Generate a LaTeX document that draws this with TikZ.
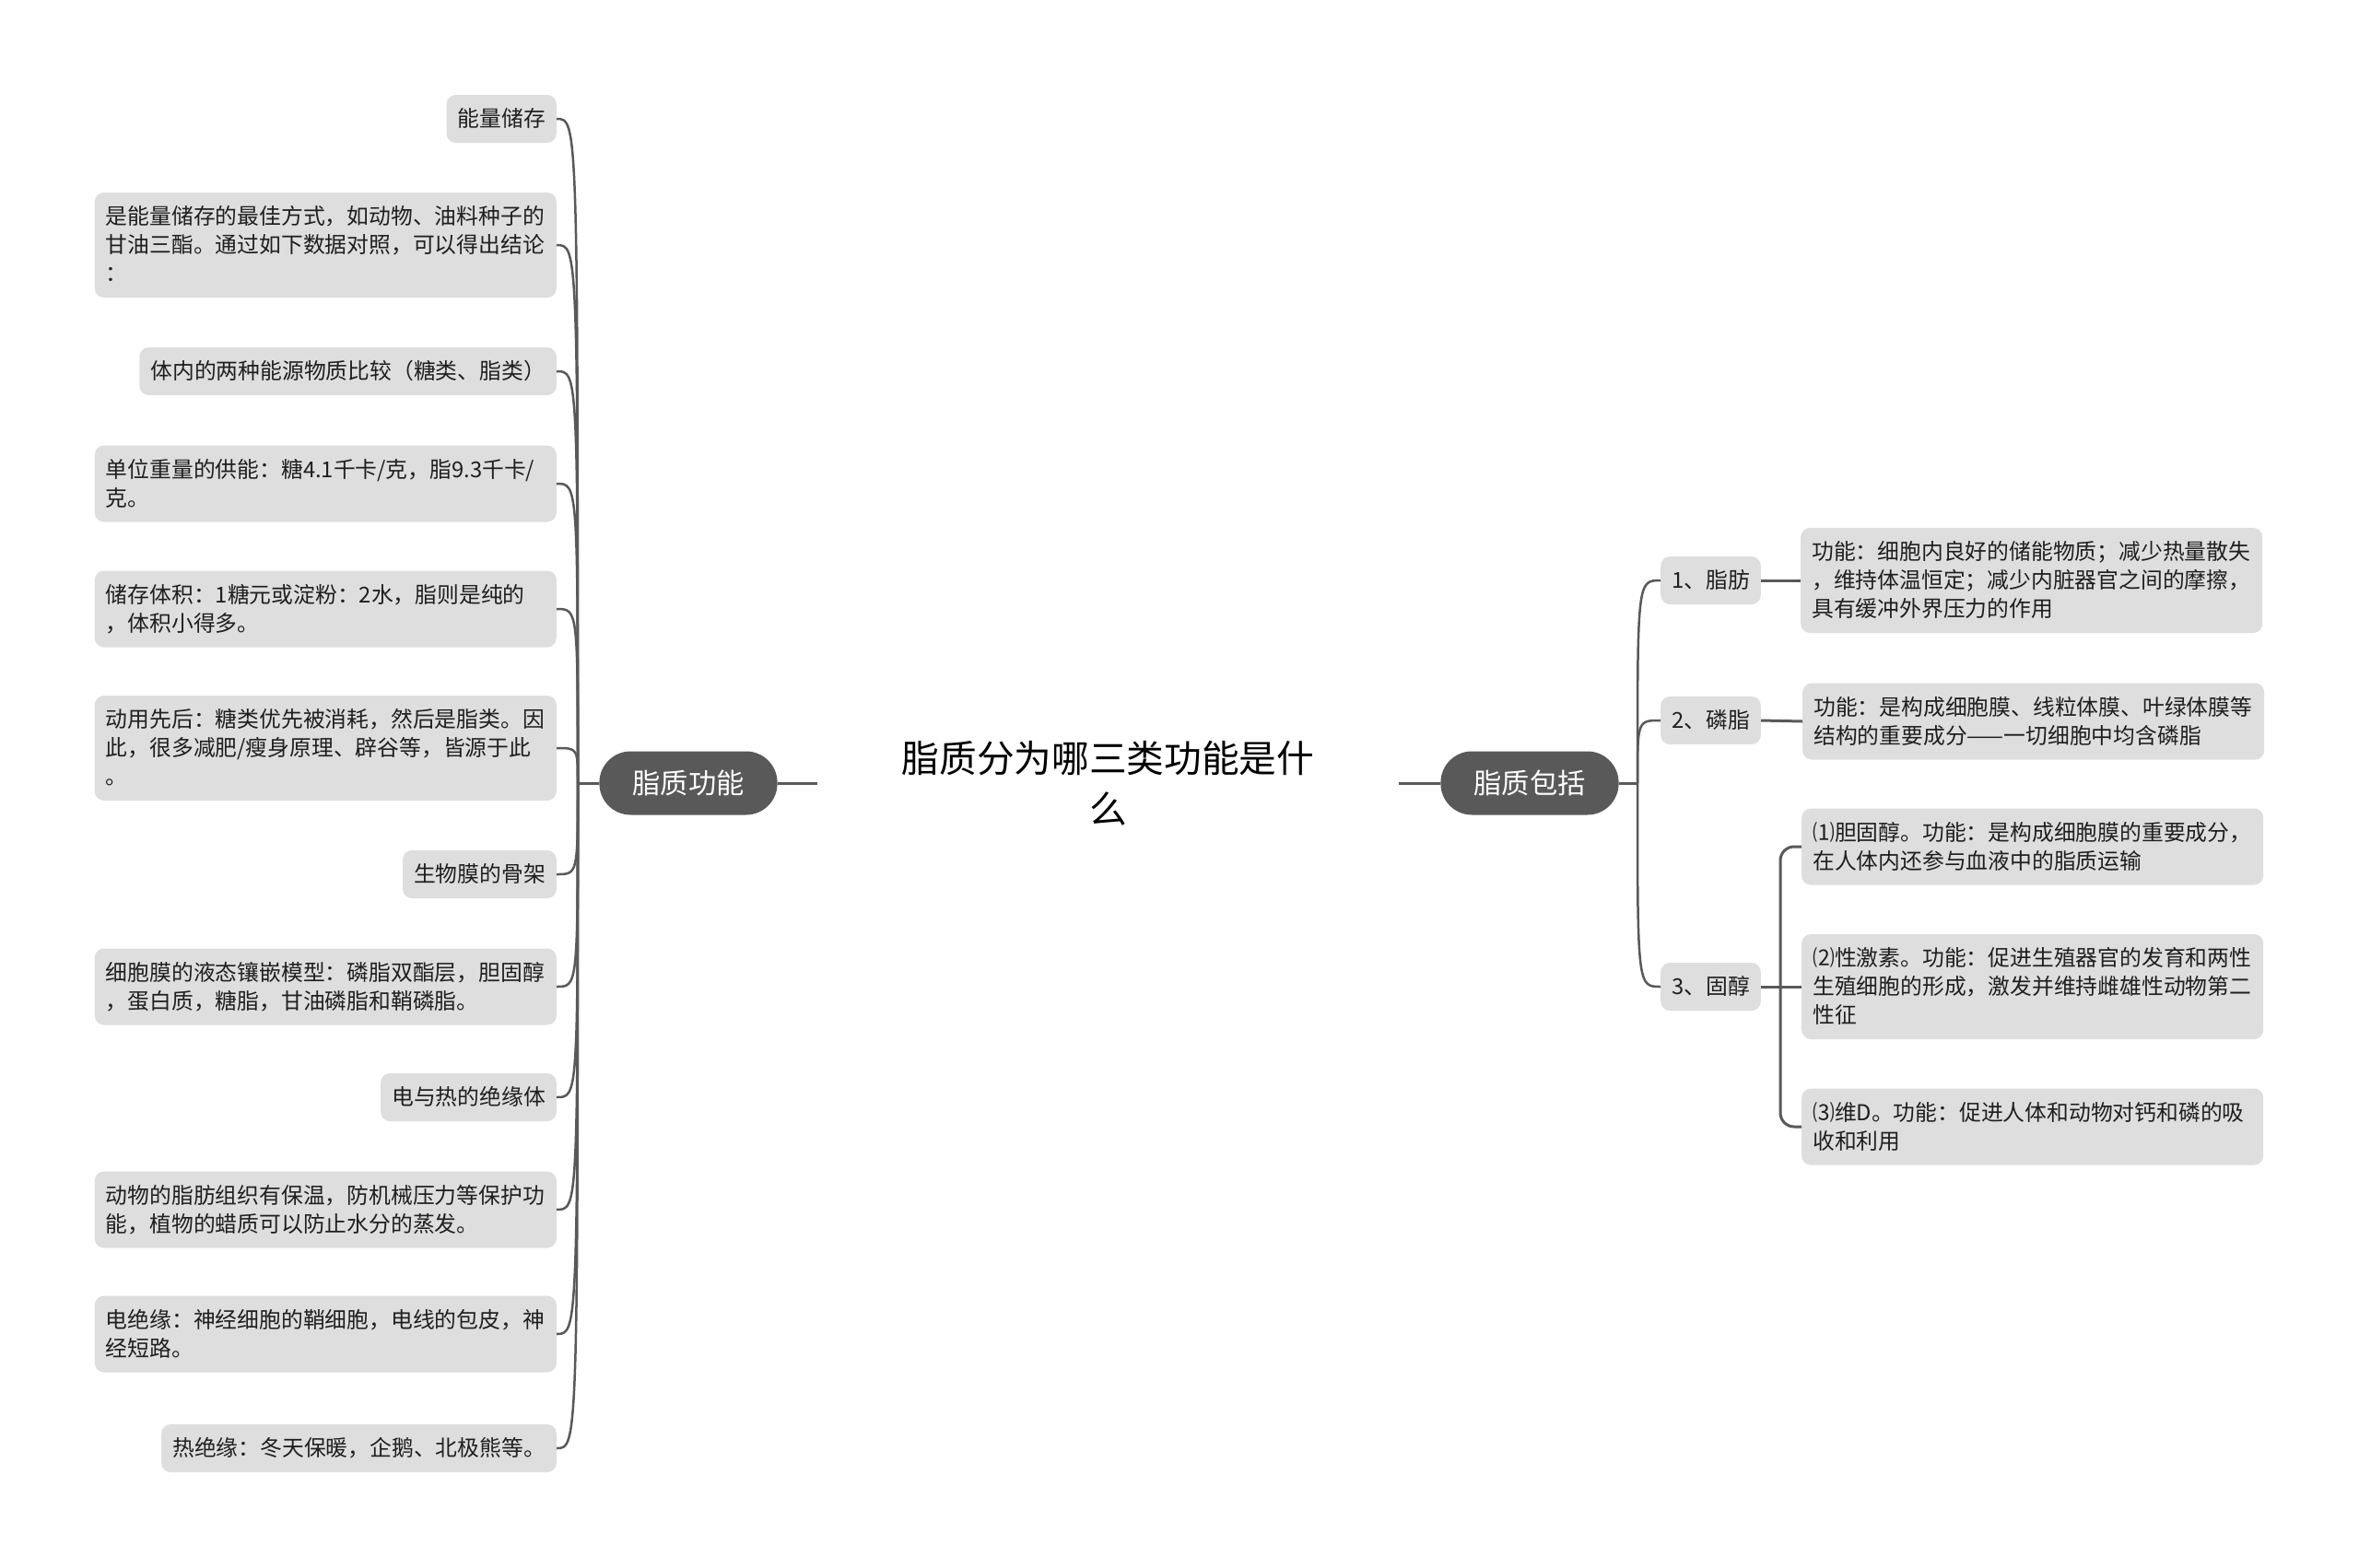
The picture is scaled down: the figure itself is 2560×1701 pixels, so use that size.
\documentclass[tikz,border=0pt]{standalone}
\usepackage{fontspec}
\setmainfont{Noto Sans CJK SC}
\usetikzlibrary{positioning}

\definecolor{boxgray}{HTML}{DEDEDE}
\definecolor{nodedark}{HTML}{595959}
\definecolor{linegray}{HTML}{595959}
\definecolor{inkgray}{HTML}{1F1F1F}

\begin{document}
\begin{tikzpicture}[x=1pt, y=-1pt,
        leaf/.style={fill=boxgray, rounded corners=10pt, inner xsep=12pt, inner ysep=13.5pt,
            align=left, text=inkgray, font=\fontsize{23.8}{31}\selectfont,
            execute at begin node={\rule{0pt}{21pt}},
            execute at end node={\rule[-4pt]{0pt}{4pt}}},
        wide/.style={text width=477pt},
        branch/.style={fill=nodedark, text=white, rounded corners=34pt, minimum height=69pt,
            inner xsep=36pt, font=\fontsize{30.3}{36}\selectfont},
        root/.style={align=center, inner sep=0pt, minimum width=631pt, text=black,
            font=\fontsize{40.7}{55}\selectfont},
        stem/.style={draw=linegray, line width=3pt},
        twig/.style={draw=linegray, line width=2.5pt}]
        \path[use as bounding box, fill=white] (0,0) rectangle (2560,1701);

        % Centre and main branches
        \node[root] (root) at (1202.5,850) {脂质分为哪三类功能是什\\么};
        \node[branch, left=43pt of root] (func) {脂质功能};
        \node[branch, right=45pt of root] (kind) {脂质包括};
        \coordinate (jl) at (627,850);
        \coordinate (jr) at (1777,850);

        % Left side
        \node[leaf, anchor=east] (l1) at (604,129) {能量储存};
        \node[leaf, wide, anchor=east] (l2) at (604,266) {是能量储存的最佳方式，如动物、油料种子的\\甘油三酯。通过如下数据对照，可以得出结论\\：};
        \node[leaf, anchor=east] (l3) at (604,403) {体内的两种能源物质比较（糖类、脂类）};
        \node[leaf, wide, anchor=east] (l4) at (604,525) {单位重量的供能：糖4.1千卡/克，脂9.3千卡/\\克。};
        \node[leaf, wide, anchor=east] (l5) at (604,661) {储存体积：1糖元或淀粉：2水，脂则是纯的\\，体积小得多。};
        \node[leaf, wide, anchor=east] (l6) at (604,812) {动用先后：糖类优先被消耗，然后是脂类。因\\此，很多减肥/瘦身原理、辟谷等，皆源于此\\。};
        \node[leaf, anchor=east] (l7) at (604,949) {生物膜的骨架};
        \node[leaf, wide, anchor=east] (l8) at (604,1071) {细胞膜的液态镶嵌模型：磷脂双酯层，胆固醇\\，蛋白质，糖脂，甘油磷脂和鞘磷脂。};
        \node[leaf, anchor=east] (l9) at (604,1191) {电与热的绝缘体};
        \node[leaf, wide, anchor=east] (l10) at (604,1313) {动物的脂肪组织有保温，防机械压力等保护功\\能，植物的蜡质可以防止水分的蒸发。};
        \node[leaf, wide, anchor=east] (l11) at (604,1448) {电绝缘：神经细胞的鞘细胞，电线的包皮，神\\经短路。};
        \node[leaf, anchor=east] (l12) at (604,1572) {热绝缘：冬天保暖，企鹅、北极熊等。};

        % Right side
        \node[leaf, anchor=west] (r1) at (1802,630) {1、脂肪};
        \node[leaf, anchor=west] (r2) at (1802,782) {2、磷脂};
        \node[leaf, anchor=west] (r3) at (1802,1071) {3、固醇};
        \node[leaf, wide, anchor=west] (s1) at (1954,630) {功能：细胞内良好的储能物质；减少热量散失\\，维持体温恒定；减少内脏器官之间的摩擦，\\具有缓冲外界压力的作用};
        \node[leaf, wide, anchor=west] (s2) at (1956,783) {功能：是构成细胞膜、线粒体膜、叶绿体膜等\\结构的重要成分——一切细胞中均含磷脂};
        \node[leaf, wide, anchor=west] (t1) at (1955,919) {⑴胆固醇。功能：是构成细胞膜的重要成分，\\在人体内还参与血液中的脂质运输};
        \node[leaf, wide, anchor=west] (t2) at (1955,1071) {⑵性激素。功能：促进生殖器官的发育和两性\\生殖细胞的形成，激发并维持雌雄性动物第二\\性征};
        \node[leaf, wide, anchor=west] (t3) at (1955,1223) {⑶维D。功能：促进人体和动物对钙和磷的吸\\收和利用};
        \coordinate (sj) at (1932,1071);

        % Connectors
        \draw[stem] (jl) -- (func.west);
        \draw[stem] (func.east) -- (root.west);
        \draw[stem] (root.east) -- (kind.west);
        \draw[stem] (kind.east) -- (jr);
        \foreach \i in {1,...,12}
            \draw[twig] (jl) .. controls (jl |- l\i.east) .. (l\i.east);
        \foreach \i in {1,2,3}
            \draw[twig] (jr) .. controls (jr |- r\i.west) .. (r\i.west);
        \draw[stem] (r1.east) -- (s1.west);
        \draw[stem] (r2.east) -- (s2.west);
        \draw[stem] (r3.east) -- (t2.west);
        \draw[stem, rounded corners=15pt] (t1.west) -| (sj) |- (t3.west);
    \end{tikzpicture}
\end{document}
